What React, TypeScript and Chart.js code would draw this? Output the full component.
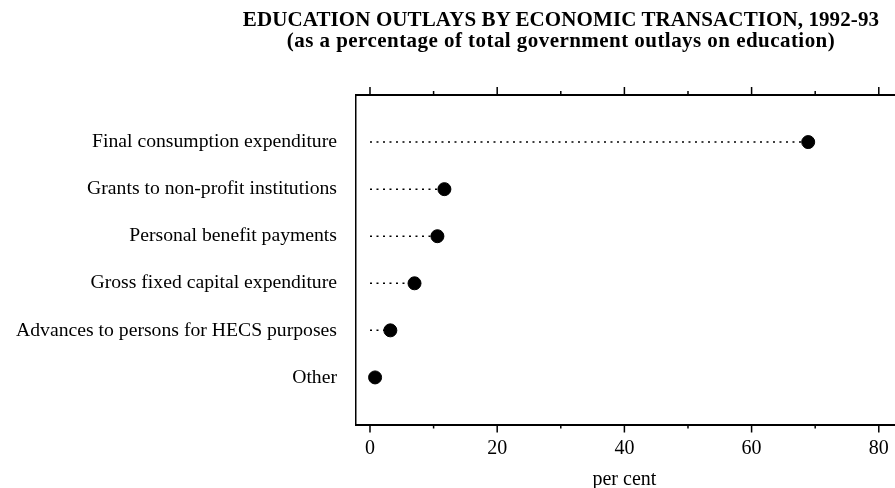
import { useEffect, useRef } from "react";
import { Chart, registerables } from "chart.js";

Chart.register(...registerables);

const TITLE = "EDUCATION OUTLAYS BY ECONOMIC TRANSACTION, 1992-93";
const SUBTITLE = "(as a percentage of total government outlays on education)";
const X_TITLE = "per cent";

const categories = [
  "Final consumption expenditure",
  "Grants to non-profit institutions",
  "Personal benefit payments",
  "Gross fixed capital expenditure",
  "Advances to persons for HECS purposes",
  "Other",
];
const values = [68.9, 11.7, 10.6, 7.0, 3.2, 0.8];
const xTickValues = [0, 10, 20, 30, 40, 50, 60, 70, 80];
const xLabelStep = 20;

const FONT = "'Liberation Serif', 'Times New Roman', serif";
const positions = categories.map((_, i) => i + 1);

const axisDecor = {
  id: "axisDecor",
  afterDraw(chart: any) {
    const { ctx, chartArea, scales } = chart;
    const x = scales.x;
    ctx.save();
    ctx.strokeStyle = "#000";
    ctx.lineWidth = 1.5;
    xTickValues.forEach((v) => {
      const px = x.getPixelForValue(v);
      const len = v % xLabelStep === 0 ? 8 : 4;
      ctx.beginPath();
      ctx.moveTo(px, chartArea.bottom);
      ctx.lineTo(px, chartArea.bottom + len);
      ctx.moveTo(px, chartArea.top);
      ctx.lineTo(px, chartArea.top - len);
      ctx.stroke();
    });
    const first = x.getPixelForValue(xTickValues[0]);
    const last = x.getPixelForValue(xTickValues[xTickValues.length - 1]);
    ctx.fillStyle = "#000";
    ctx.font = `20px ${FONT}`;
    ctx.textAlign = "center";
    ctx.textBaseline = "middle";
    ctx.fillText(X_TITLE, (first + last) / 2, chartArea.bottom + 55);
    ctx.restore();
  },
};

export default function App() {
  const ref = useRef<HTMLCanvasElement | null>(null);

  useEffect(() => {
    if (!ref.current) return;
    const leaders = values.map((v, i) => ({
      data: [
        { x: 0, y: positions[i] },
        { x: v, y: positions[i] },
      ],
      showLine: true,
      borderColor: "#000",
      borderWidth: 1.5,
      borderDash: [2, 4.5],
      pointRadius: 0,
      pointHoverRadius: 0,
    }));
    const dots = {
      data: values.map((v, i) => ({ x: v, y: positions[i] })),
      showLine: false,
      backgroundColor: "#000",
      borderColor: "#000",
      pointRadius: 6.5,
      pointHoverRadius: 6.5,
    };
    const chart = new Chart(ref.current, {
      type: "scatter",
      data: { datasets: [...leaders, dots] as any },
      plugins: [axisDecor],
      options: {
        animation: false,
        responsive: false,
        maintainAspectRatio: false,
        devicePixelRatio: 1,
        events: [],
        layout: { padding: 0 },
        plugins: { legend: { display: false }, tooltip: { enabled: false }, title: { display: false } },
        scales: {
          x: {
            type: "linear",
            position: "bottom",
            min: -2.2,
            max: 85.3,
            afterBuildTicks: (s: any) => {
              s.ticks = xTickValues.map((v) => ({ value: v }));
            },
            afterFit: (s: any) => {
              s.height = 63.5;
              s.paddingLeft = 0;
              s.paddingRight = 0;
            },
            ticks: {
              autoSkip: false,
              maxRotation: 0,
              padding: 12,
              color: "#000",
              font: { family: FONT, size: 20 },
              callback: (v: any) => (Number(v) % xLabelStep === 0 ? String(v) : ""),
            },
            grid: { display: false, drawTicks: false },
            border: { display: true, color: "#000", width: 2 },
          },
          x2: {
            type: "linear",
            position: "top",
            min: -2.2,
            max: 85.3,
            afterFit: (s: any) => {
              s.height = 95;
              s.paddingLeft = 0;
              s.paddingRight = 0;
            },
            ticks: { display: false },
            grid: { display: false, drawTicks: false },
            border: { display: true, color: "#000", width: 2 },
          },
          y: {
            type: "linear",
            position: "left",
            min: 0,
            max: 7,
            reverse: true,
            afterBuildTicks: (s: any) => {
              s.ticks = positions.map((v) => ({ value: v }));
            },
            afterFit: (s: any) => {
              s.width = 356;
            },
            ticks: {
              autoSkip: false,
              padding: 19,
              color: "#000",
              font: { family: FONT, size: 19.7 },
              callback: (v: any) => categories[Number(v) - 1] ?? "",
            },
            grid: { display: false, drawTicks: false },
            border: { display: true, color: "#000", width: 1.5 },
          },
        },
      },
    });
    return () => chart.destroy();
  }, []);

  return (
    <div style={{ position: "fixed", left: 0, top: 0, width: 895, height: 488, overflow: "hidden", background: "#fff" }}>
      <canvas ref={ref} width={920} height={488} style={{ display: "block", width: 920, height: 488 }} />
      <div
        style={{
          position: "absolute",
          left: 211,
          top: 9,
          width: 700,
          textAlign: "center",
          fontFamily: FONT,
          fontWeight: "bold",
          fontSize: 21,
          lineHeight: "21px",
          color: "#000",
        }}
      >
        <div style={{ letterSpacing: "0.1px" }}>{TITLE}</div>
        <div style={{ letterSpacing: "0.45px" }}>{SUBTITLE}</div>
      </div>
    </div>
  );
}
